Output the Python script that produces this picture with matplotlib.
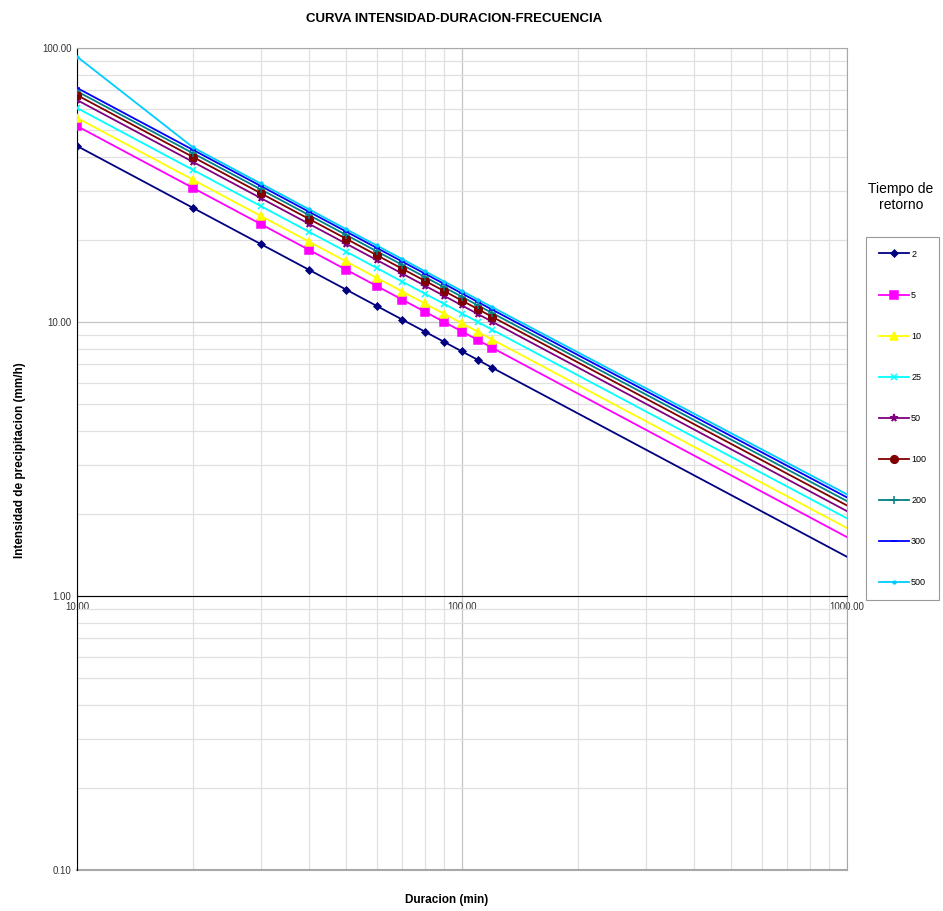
import matplotlib
matplotlib.use('Agg')
import matplotlib.pyplot as plt
from matplotlib.ticker import LogLocator, FixedLocator, FixedFormatter, NullFormatter
from matplotlib.lines import Line2D

plt.rcParams['font.family'] = ['Liberation Sans', 'DejaVu Sans']

# duraciones (min); the last point is the extension of the curve to 1000 min
duracion = [10, 20, 30, 40, 50, 60, 70, 80, 90, 100, 110, 120, 1000]
periodos = ['2', '5', '10', '25', '50', '100', '200', '300', '500']

i_2 = [43.90, 26.10, 19.26, 15.52, 13.13, 11.45, 10.20, 9.23, 8.45, 7.81, 7.27, 6.80, 1.39]
i_5 = [51.90, 30.86, 22.77, 18.35, 15.52, 13.54, 12.06, 10.91, 9.99, 9.23, 8.59, 8.04, 1.64]
i_10 = [55.60, 33.06, 24.39, 19.66, 16.63, 14.50, 12.92, 11.69, 10.70, 9.89, 9.20, 8.62, 1.77]
i_25 = [60.40, 35.91, 26.50, 21.36, 18.07, 15.75, 14.03, 12.70, 11.63, 10.74, 10.00, 9.36, 1.92]
i_50 = [64.60, 38.41, 28.34, 22.84, 19.32, 16.85, 15.01, 13.58, 12.44, 11.49, 10.69, 10.01, 2.04]
i_100 = [67.30, 40.02, 29.52, 23.80, 20.13, 17.55, 15.63, 14.15, 12.96, 11.97, 11.14, 10.43, 2.14]
i_200 = [69.50, 41.32, 30.49, 24.58, 20.79, 18.13, 16.15, 14.61, 13.38, 12.36, 11.50, 10.77, 2.22]
i_300 = [71.50, 42.51, 31.37, 25.28, 21.39, 18.65, 16.61, 15.03, 13.76, 12.71, 11.83, 11.08, 2.29]
i_500 = [93.00, 43.41, 32.03, 25.81, 21.83, 19.04, 16.96, 15.34, 14.05, 12.98, 12.08, 11.32, 2.35]

series = [i_2, i_5, i_10, i_25, i_50, i_100, i_200, i_300, i_500]
colores = ['#000080', '#FF00FF', '#FFFF00', '#00FFFF', '#800080',
           '#800000', '#008080', '#0000FF', '#00CCFF']
marcadores = ['D', 's', '^', 'x', '*', 'o', '+', '_', '.']
tamanos = [3.5, 5.5, 5.5, 4.5, 5.5, 5.5, 5.5, 4.5, 4]

fig = plt.figure(figsize=(9.43, 9.11), dpi=100)
ax = fig.add_axes([77 / 943, 1 - 870 / 911, 770 / 943, 822 / 911])

handles = []
for vals, c, m, ms, lab in zip(series, colores, marcadores, tamanos, periodos):
    ax.plot(duracion, vals, color=c, lw=1.3, zorder=3)
    ax.plot(duracion[:-1], vals[:-1], ls='none', marker=m, ms=ms, color=c,
            mec=c, mew=1.1, zorder=4)
    handles.append(Line2D([], [], color=c, lw=1.3, marker=m, ms=ms, mec=c,
                          mew=1.1, label=lab))

ax.set_xscale('log')
ax.set_yscale('log')
ax.set_xlim(10, 1000)
ax.set_ylim(0.1, 100)

ax.xaxis.set_major_locator(FixedLocator([10, 100, 1000]))
ax.xaxis.set_major_formatter(FixedFormatter(['10.00', '100.00', '1000.00']))
ax.xaxis.set_minor_locator(LogLocator(base=10, subs=range(2, 10)))
ax.xaxis.set_minor_formatter(NullFormatter())
ax.yaxis.set_major_locator(FixedLocator([0.1, 1, 10, 100]))
ax.yaxis.set_major_formatter(FixedFormatter(['0.10', '1.00', '10.00', '100.00']))
ax.yaxis.set_minor_locator(LogLocator(base=10, subs=range(2, 10)))
ax.yaxis.set_minor_formatter(NullFormatter())

ax.grid(True, which='major', color='#c4c4c4', lw=0.9, zorder=0)
ax.grid(True, which='minor', color='#e0e0e0', lw=0.9, zorder=0)

# horizontal axis crosses at 1.0 like in the spreadsheet
ax.spines['bottom'].set_position(('data', 1))
ax.spines['bottom'].set_color('black')
ax.spines['left'].set_color('black')
ax.spines['top'].set_color('#a8a8a8')
ax.spines['right'].set_color('#a8a8a8')
ax.plot([10, 1000], [0.1, 0.1], color='#a8a8a8', lw=1.5, clip_on=False, zorder=2)

ax.tick_params(which='both', length=0, labelsize=7, colors='#333333', pad=4)

fig.text(0.482, 0.979, 'CURVA INTENSIDAD-DURACION-FRECUENCIA', ha='center',
         va='center', fontsize=9.5, fontweight='bold')
fig.text(447 / 943, 1 - 900 / 911, 'Duracion (min)', ha='center', va='center',
         fontsize=8.5, fontweight='bold')
fig.text(20 / 943, 1 - 460 / 911, 'Intensidad de precipitacion (mm/h)', ha='center',
         va='center', rotation=90, fontsize=8.5, fontweight='bold')
fig.text(901 / 943, 1 - 197 / 911, 'Tiempo de\nretorno', ha='center', va='center',
         fontsize=10, linespacing=1.2)

leg = fig.legend(handles=handles, loc='upper left', bbox_to_anchor=(866 / 943, 1 - 237 / 911),
                 fontsize=6.5, labelspacing=3.55, handlelength=3.4, handletextpad=0.2,
                 borderpad=1.4, frameon=True, fancybox=False, edgecolor='#808080',
                 borderaxespad=0)
leg.get_frame().set_linewidth(0.8)

fig.savefig('out.png', dpi=100)
